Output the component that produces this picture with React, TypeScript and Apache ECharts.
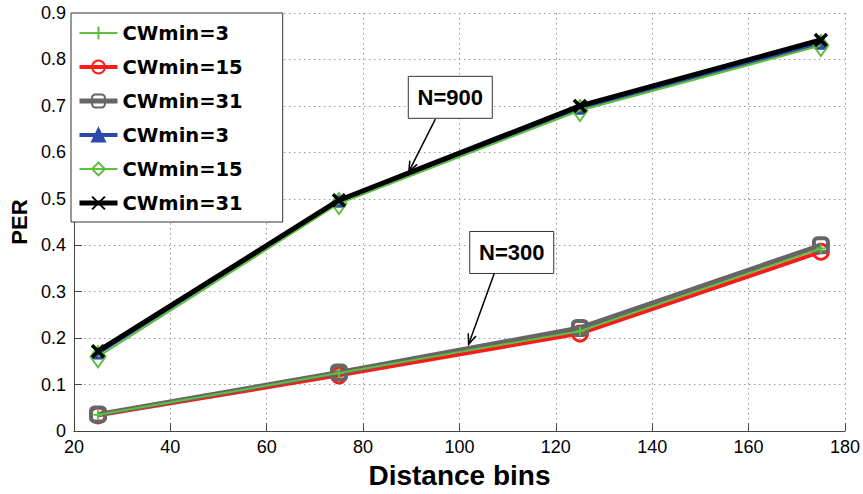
import React, { useEffect, useRef } from "react";
import * as echarts from "echarts";

const distance = [25, 75, 125, 175];
const xTicks = [20, 40, 60, 80, 100, 120, 140, 160, 180];
const yTicks = [0, 0.1, 0.2, 0.3, 0.4, 0.5, 0.6, 0.7, 0.8, 0.9];

// N=300
const n300cw3 = [0.035, 0.125, 0.215, 0.393];
const n300cw15 = [0.034, 0.12, 0.21, 0.386];
const n300cw31 = [0.036, 0.126, 0.222, 0.4];
// N=900
const n900cw3 = [0.168, 0.495, 0.695, 0.835];
const n900cw15 = [0.16, 0.49, 0.69, 0.83];
const n900cw31 = [0.172, 0.497, 0.7, 0.842];

const legendNames = ["CWmin=3", "CWmin=15", "CWmin=31", "CWmin=3 ", "CWmin=15 ", "CWmin=31 "];

// annotations: label, box centre (data), arrow tail (data), arrow tip (data)
const annotations = [
  { label: "N=900", box: [98.1, 0.7185], tail: [95.0, 0.6715], tip: [89.5, 0.5585] },
  { label: "N=300", box: [110.85, 0.3845], tail: [107.2, 0.3385], tip: [101.9, 0.187] },
];

const GREEN = "#5cbf3e";
const RED = "#ff1a1a";
const GRAY = "#666666";
const BLUE = "#2b4aa8";
const BLACK = "#000000";

const toPairs = (ys: number[]) => distance.map((x, i) => [x, ys[i]]);

export default function App() {
  const ref = useRef<HTMLDivElement>(null);
  useEffect(() => {
    if (!ref.current) return;
    const chart = echarts.init(ref.current, null, { renderer: "svg" });
    const hollow = (c: string, w: number) => ({ color: "rgba(0,0,0,0)", borderColor: c, borderWidth: w });
    const lineWidths = [2, 4, 5, 4, 2, 5];
    const option: any = {
      animation: false,
      backgroundColor: "#fff",
      grid: { left: 71, right: 18, top: 13, bottom: 59, containLabel: false },
      legend: {
        orient: "vertical",
        left: 71,
        top: 13,
        padding: [10, 40, 9, 6],
        itemGap: 14,
        itemWidth: 38,
        itemHeight: 16,
        backgroundColor: "#fff",
        borderColor: "#333",
        borderWidth: 1,
        borderRadius: 0,
        textStyle: {
          fontFamily: "DejaVu Sans",
          fontWeight: "bold",
          fontSize: 19.5,
          lineHeight: 20,
          color: "#000",
        },
        formatter: (n: string) => n.trim(),
        data: legendNames.map((n, i) => ({ name: n, lineStyle: { width: lineWidths[i] } })),
      },
      xAxis: {
        type: "value",
        min: 20,
        max: 180,
        interval: 20,
        name: "Distance bins",
        nameLocation: "middle",
        nameGap: 22,
        nameTextStyle: { fontFamily: "Liberation Sans", fontWeight: "bold", fontSize: 28, color: "#000" },
        axisLine: { show: true, onZero: false, lineStyle: { color: "#444", width: 1 } },
        axisTick: { show: true, inside: true, length: 8, lineStyle: { color: "#444" } },
        axisLabel: {
          margin: 7,
          fontFamily: "Liberation Sans",
          fontSize: 18,
          color: "#000",
          formatter: (v: number) => (xTicks.includes(v) ? String(v) : ""),
        },
        splitLine: { show: true, lineStyle: { color: "#999", type: [1.5, 3.5], width: 1 } },
      },
      yAxis: {
        type: "value",
        min: 0,
        max: 0.9,
        interval: 0.1,
        name: "PER",
        nameLocation: "middle",
        nameGap: 42,
        nameTextStyle: { fontFamily: "Liberation Sans", fontWeight: "bold", fontSize: 22, color: "#000" },
        axisLine: { show: true, onZero: false, lineStyle: { color: "#444", width: 1 } },
        axisTick: { show: true, inside: true, length: 8, lineStyle: { color: "#444" } },
        axisLabel: {
          margin: 8,
          fontFamily: "Liberation Sans",
          fontSize: 18,
          color: "#000",
          formatter: (v: number) => {
            const r = Math.round(v * 10) / 10;
            return yTicks.includes(r) ? String(r) : "";
          },
        },
        splitLine: { show: true, lineStyle: { color: "#999", type: [1.5, 3.5], width: 1 } },
      },
      series: [
        {
          name: legendNames[0],
          type: "line",
          data: toPairs(n300cw3),
          symbol: "path://M5,0L5,10M0,5L10,5",
          symbolSize: 9,
          itemStyle: hollow(GREEN, 2),
          lineStyle: { color: GREEN, width: lineWidths[0] },
          z: 5,
        },
        {
          name: legendNames[1],
          type: "line",
          data: toPairs(n300cw15),
          symbol: "circle",
          symbolSize: 15,
          itemStyle: hollow(RED, 3),
          lineStyle: { color: RED, width: lineWidths[1] },
          z: 2,
        },
        {
          name: legendNames[2],
          type: "line",
          data: toPairs(n300cw31),
          symbol: "roundRect",
          symbolSize: 14,
          itemStyle: hollow(GRAY, 4),
          lineStyle: { color: GRAY, width: lineWidths[2] },
          z: 3,
        },
        {
          name: legendNames[3],
          type: "line",
          data: toPairs(n900cw3),
          symbol: "triangle",
          symbolSize: 12,
          itemStyle: { color: BLUE, borderColor: BLUE, borderWidth: 1 },
          lineStyle: { color: BLUE, width: lineWidths[3] },
          z: 2,
        },
        {
          name: legendNames[4],
          type: "line",
          data: toPairs(n900cw15),
          symbol: "diamond",
          symbolSize: [15, 21],
          itemStyle: hollow(GREEN, 2),
          lineStyle: { color: GREEN, width: lineWidths[4] },
          z: 3,
        },
        {
          name: legendNames[5],
          type: "line",
          data: toPairs(n900cw31),
          symbol: "path://M0,0L10,10M10,0L0,10",
          symbolSize: 12,
          itemStyle: hollow(BLACK, 3.5),
          lineStyle: { color: BLACK, width: lineWidths[5] },
          z: 4,
        },
      ],
    };
    chart.setOption(option);

    const graphics: any[] = [];
    annotations.forEach((a) => {
      const c = chart.convertToPixel({ gridIndex: 0 }, a.box) as number[];
      const t = chart.convertToPixel({ gridIndex: 0 }, a.tail) as number[];
      const p = chart.convertToPixel({ gridIndex: 0 }, a.tip) as number[];
      const w = 84;
      const h = 42;
      graphics.push({
        type: "rect",
        shape: { x: c[0] - w / 2, y: c[1] - h / 2, width: w, height: h },
        style: { fill: "#fff", stroke: "#333", lineWidth: 1 },
        z: 100,
      });
      graphics.push({
        type: "text",
        x: c[0],
        y: c[1],
        style: {
          text: a.label,
          fill: "#000",
          font: "bold 22px 'Liberation Sans'",
          align: "center",
          verticalAlign: "middle",
        },
        z: 101,
      });
      graphics.push({
        type: "line",
        shape: { x1: t[0], y1: t[1], x2: p[0], y2: p[1] },
        style: { stroke: "#000", lineWidth: 1.5 },
        z: 100,
      });
      const ang = Math.atan2(p[1] - t[1], p[0] - t[0]);
      const len = 11;
      const spread = 0.38;
      const l1 = [p[0] - len * Math.cos(ang - spread), p[1] - len * Math.sin(ang - spread)];
      const l2 = [p[0] - len * Math.cos(ang + spread), p[1] - len * Math.sin(ang + spread)];
      graphics.push({
        type: "polyline",
        shape: { points: [l1, p, l2] },
        style: { stroke: "#000", lineWidth: 1.5, fill: null },
        z: 100,
      });
    });
    chart.setOption({ graphic: graphics });

    return () => chart.dispose();
  }, []);
  return (
    <div
      ref={ref}
      style={{ position: "absolute", left: 0, top: 0, width: 863, height: 494, background: "#fff" }}
    />
  );
}
